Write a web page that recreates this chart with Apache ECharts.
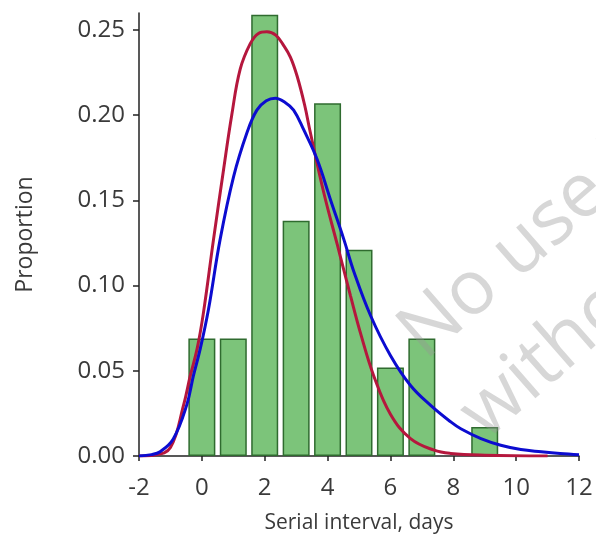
<!DOCTYPE html>
<html>
<head>
<meta charset="utf-8">
<script src="https://cdn.jsdelivr.net/npm/echarts@6/dist/echarts.min.js"></script>
<style>
  html, body { margin: 0; padding: 0; background: #fff; }
  #main { width: 596px; height: 539px; }
</style>
</head>
<body>
<div id="main"></div>
<script>
// observed serial intervals (days) and their proportions
var days = [0, 1, 2, 3, 4, 5, 6, 7, 9];
var proportion = [0.069, 0.069, 0.259, 0.138, 0.207, 0.121, 0.052, 0.069, 0.017];

// fitted curves
var redX = [-2, -1.5, -1.0, -0.58, -0.37, -0.15, 0.05, 0.37, 0.69, 0.95, 1.22, 1.54, 1.8, 2.07, 2.35, 2.6, 2.82, 3.03, 3.27, 3.45, 3.88, 4.31, 4.52, 4.73, 5.05, 5.47, 6.0, 6.64, 7.39, 7.92, 9.0, 11.0];
var redY = [0, 0.0006, 0.005, 0.030, 0.047, 0.063, 0.084, 0.127, 0.168, 0.200, 0.227, 0.242, 0.248, 0.249, 0.247, 0.241, 0.234, 0.223, 0.206, 0.190, 0.1545, 0.124, 0.109, 0.094, 0.072, 0.047, 0.0245, 0.0102, 0.0034, 0.0015, 0.0005, 0];
var blueX = [-2, -1.6, -1.33, -0.91, -0.48, -0.27, -0.05, 0.21, 0.58, 1.01, 1.44, 1.75, 2.05, 2.34, 2.65, 2.92, 3.24, 3.67, 4.09, 4.52, 4.84, 5.37, 6.0, 6.64, 7.28, 7.92, 8.24, 8.88, 9.51, 10.15, 10.8, 11.4, 12];
var blueY = [0, 0.0008, 0.0025, 0.010, 0.030, 0.047, 0.063, 0.086, 0.127, 0.164, 0.190, 0.203, 0.2085, 0.210, 0.2075, 0.203, 0.1915, 0.174, 0.1506, 0.127, 0.108, 0.0823, 0.059, 0.0414, 0.0297, 0.020, 0.016, 0.0102, 0.0063, 0.0038, 0.0025, 0.0015, 0.0008];
var yTicks = [0, 0.05, 0.10, 0.15, 0.20, 0.25];

function pairs(xs, ys) {
  var out = [];
  for (var i = 0; i < xs.length; i++) out.push([xs[i], ys[i]]);
  return out;
}

var font = 'Open Sans';
var wm = { fontFamily: font, fontSize: 76, fill: 'rgba(150,150,150,0.38)', textVerticalAlign: 'middle' };
var chart = echarts.init(document.getElementById('main'));
chart.setOption({
  animation: false,
  grid: { left: 139, right: 17, top: 13, bottom: 82 },
  xAxis: {
    type: 'value', min: -2, max: 12, interval: 2,
    name: 'Serial interval, days', nameLocation: 'middle', nameGap: 57,
    nameTextStyle: { fontFamily: font, fontSize: 21, color: '#3a3a3a' },
    axisLine: { onZero: false, lineStyle: { color: '#222', width: 1.5 } },
    axisTick: { show: true, length: 5, lineStyle: { color: '#222', width: 1.5 } },
    axisLabel: { fontFamily: font, fontSize: 24, color: '#3a3a3a', margin: 20 },
    splitLine: { show: false }
  },
  yAxis: {
    type: 'value', min: 0, max: 0.26,
    name: 'Proportion', nameLocation: 'middle', nameGap: 102,
    nameTextStyle: { fontFamily: font, fontSize: 23, color: '#3a3a3a' },
    axisLine: { show: true, onZero: false, lineStyle: { color: '#222', width: 1.5 } },
    axisTick: { show: true, length: 6, customValues: yTicks, lineStyle: { color: '#222', width: 1.5 } },
    axisLabel: {
      fontFamily: font, fontSize: 24, color: '#3a3a3a', margin: 14,
      customValues: yTicks,
      formatter: function (v) { return v.toFixed(2); }
    },
    splitLine: { show: false }
  },
  graphic: [
    { type: 'text', x: 411, y: 345, rotation: 0.72, z: 3, silent: true,
      style: Object.assign({ text: 'No use is' }, wm) },
    { type: 'text', x: 472, y: 425, rotation: 0.72, z: 3, silent: true,
      style: Object.assign({ text: 'without permission' }, wm) }
  ],
  series: [
    {
      type: 'bar', barWidth: 27,
      data: pairs(days, proportion),
      itemStyle: { color: '#7cc47a', borderColor: '#2f6b2f', borderWidth: 1.5 },
      z: 2
    },
    {
      type: 'line', smooth: 0.4, showSymbol: false,
      data: pairs(redX, redY),
      lineStyle: { color: '#b5173d', width: 3 },
      z: 5
    },
    {
      type: 'line', smooth: 0.4, showSymbol: false,
      data: pairs(blueX, blueY),
      lineStyle: { color: '#0c0cd0', width: 3 },
      z: 6
    }
  ]
});
</script>
</body>
</html>
